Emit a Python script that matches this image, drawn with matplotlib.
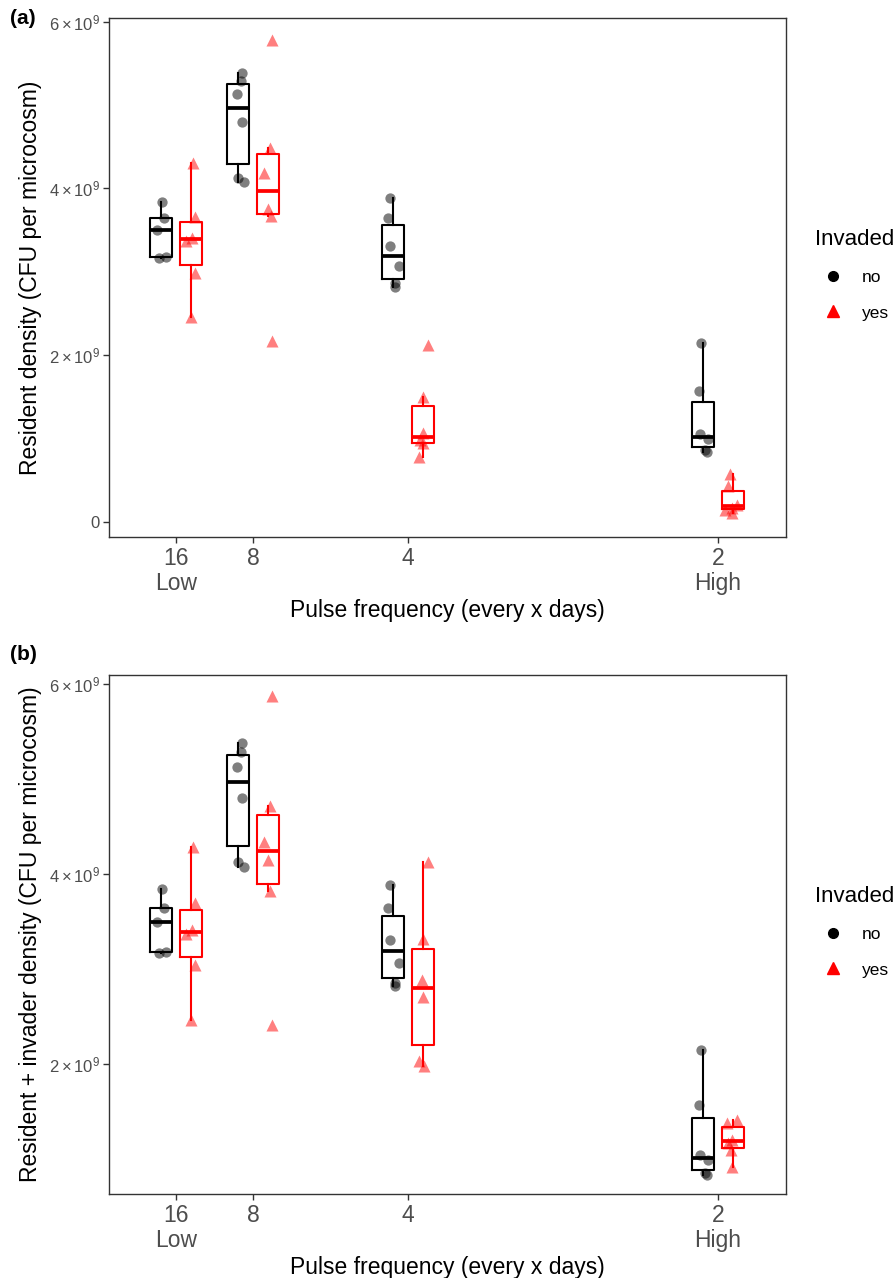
import numpy as np
import matplotlib
matplotlib.use("Agg")
import matplotlib.pyplot as plt
from matplotlib.lines import Line2D

plt.rcParams['font.family'] = ['Liberation Sans', 'DejaVu Sans']
plt.rcParams['mathtext.fontset'] = 'custom'
plt.rcParams['mathtext.rm'] = 'Liberation Sans'
plt.rcParams['mathtext.it'] = 'Liberation Sans:italic'

# pulse every x days
freq_days = [16, 8, 4, 2]
freq_labels = ['16\nLow', '8', '4', '2\nHigh']

# densities in units of 1e9 CFU per microcosm
resident_no = [
    [3.17, 3.18, 3.50, 3.65, 3.84],
    [4.08, 4.13, 4.80, 5.13, 5.29, 5.38],
    [2.82, 2.86, 3.07, 3.31, 3.64, 3.89],
    [0.84, 0.86, 0.99, 1.05, 1.57, 2.15],
]
resident_yes = [
    [2.46, 2.99, 3.37, 3.41, 3.66, 4.30],
    [2.17, 3.67, 3.75, 4.19, 4.48, 5.78],
    [0.78, 0.94, 0.98, 1.06, 1.50, 2.12],
    [0.10, 0.14, 0.17, 0.20, 0.43, 0.57],
]
total_no = resident_no
total_yes = [
    [2.47, 3.05, 3.37, 3.41, 3.70, 4.29],
    [2.41, 3.82, 4.15, 4.34, 4.72, 5.87],
    [1.98, 2.04, 2.71, 2.89, 3.32, 4.13],
    [0.92, 1.10, 1.17, 1.21, 1.38, 1.42],
]

# horizontal jitter of the points, as a fraction of the box width
jit_no = [
    [-0.08, 0.23, -0.17, 0.15, 0.06],
    [0.27, -0.01, 0.14, -0.06, 0.12, 0.17],
    [0.09, 0.06, 0.26, -0.17, -0.24, -0.17],
    [0.18, 0.08, 0.23, -0.15, -0.18, -0.07],
]
jit_yes_a = [
    [0.02, 0.17, -0.21, 0.06, 0.20, 0.09],
    [0.17, 0.12, -0.03, -0.21, 0.09, 0.17],
    [-0.18, 0.0, -0.15, 0.0, 0.0, 0.20],
    [-0.05, -0.35, -0.05, 0.18, -0.23, -0.12],
]
jit_yes_b = [
    [0.02, 0.17, -0.21, 0.06, 0.20, 0.09],
    [0.17, 0.09, -0.03, -0.21, 0.09, 0.17],
    [0.05, -0.18, 0.0, -0.06, 0.0, 0.23],
    [-0.05, -0.08, -0.20, -0.05, -0.27, 0.21],
]

dodge = 0.0121
bw = 0.0178
grey_txt = '#4d4d4d'
grey_ax = '#333333'


def panel(ax, vals_no, vals_yes, jyes, ylim, yticks, ylabel):
    xs = 1.0 / np.array(freq_days)
    for i in range(len(freq_days)):
        for vals, jit, off, col, mk, sz in [
            (vals_no[i], jit_no[i], -dodge, 'black', 'o', 55),
            (vals_yes[i], jyes[i], dodge, 'red', '^', 75),
        ]:
            pos = xs[i] + off
            ax.boxplot([vals], positions=[pos], widths=bw, showfliers=False,
                       whis=1.5, manage_ticks=False,
                       boxprops=dict(color=col, linewidth=1.5),
                       whiskerprops=dict(color=col, linewidth=1.5),
                       capprops=dict(linewidth=0),
                       medianprops=dict(color=col, linewidth=2.7))
            ax.scatter(pos + np.array(jit) * bw, vals, marker=mk, s=sz,
                       color=col, alpha=0.5, linewidths=0, zorder=3)
    ax.set_xlim(0.0086, 0.555)
    ax.set_ylim(*ylim)
    ax.set_xticks(xs)
    ax.set_xticklabels(freq_labels, fontsize=16.5, color=grey_txt, linespacing=1.1)
    ax.set_yticks(yticks)
    ax.set_yticklabels(['0' if t == 0 else r'$%d\times10^9$' % t for t in yticks],
                       fontsize=12, color=grey_txt)
    ax.tick_params(length=4, width=1, color=grey_ax, pad=3)
    for s in ax.spines.values():
        s.set_color(grey_ax)
        s.set_linewidth(1)
    ax.set_xlabel('Pulse frequency (every x days)', fontsize=16.5, labelpad=3)
    ax.set_ylabel(ylabel, fontsize=16.5, labelpad=5)
    handles = [Line2D([], [], marker='o', color='black', linestyle='', markersize=7),
               Line2D([], [], marker='^', color='red', linestyle='', markersize=8.5)]
    ax.legend(handles, ['no', 'yes'], title='Invaded', loc='center left',
              bbox_to_anchor=(1.02, 0.505), frameon=False, fontsize=12.5,
              title_fontsize=16, handletextpad=0.7, labelspacing=1.15,
              alignment='left')


fig = plt.figure(figsize=(8.95, 12.78), dpi=100)
ax1 = fig.add_axes([0.1221, 0.5798, 0.7561, 0.4061])
ax2 = fig.add_axes([0.1221, 0.0657, 0.7561, 0.4061])

panel(ax1, resident_no, resident_yes, jit_yes_a, (-0.184, 6.045), [0, 2, 4, 6],
      'Resident density (CFU per microcosm)')
panel(ax2, total_no, total_yes, jit_yes_b, (0.637, 6.095), [2, 4, 6],
      'Resident + invader density (CFU per microcosm)')

fig.text(0.011, 1 - 18 / 1278, '(a)', fontsize=15, weight='bold', va='center')
fig.text(0.011, 1 - 655 / 1278, '(b)', fontsize=15, weight='bold', va='center')

fig.savefig('out.png', dpi=100)
